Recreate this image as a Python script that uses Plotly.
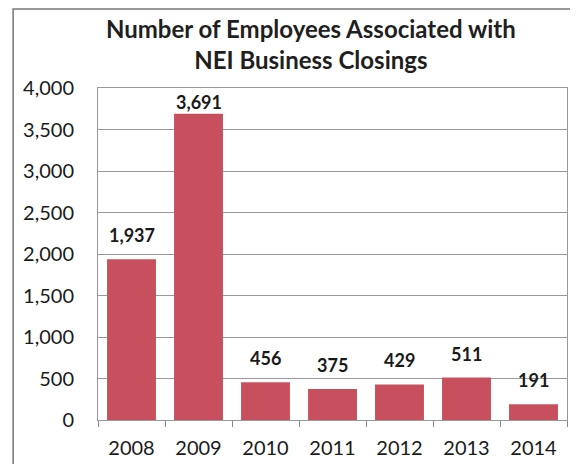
import plotly.graph_objects as go

years = ["2008", "2009", "2010", "2011", "2012", "2013", "2014"]
employees = [1937, 3691, 456, 375, 429, 511, 191]
y_ticks = [0, 500, 1000, 1500, 2000, 2500, 3000, 3500, 4000]
y_tick_labels = ["0", "500", "1,000", "1,500", "2,000", "2,500", "3,000", "3,500", "4,000"]
y_max = 4000

FONT = "Lato, Open Sans, sans-serif"

fig = go.Figure()
fig.add_trace(go.Bar(
    x=years, y=employees,
    marker=dict(color="#c8505e", line=dict(width=0)),
    width=0.73,
))

for i, v in enumerate(employees):
    if v > 0.88 * y_max:
        # label kept inside the plot area, just under its top edge
        fig.add_annotation(x=i, y=y_max, text=f"<b>{v:,}</b>", showarrow=False,
                           yanchor="top", yshift=-1,
                           font=dict(family=FONT, size=18, color="#1a1a1a"))
    else:
        fig.add_annotation(x=i, y=v, text=f"<b>{v:,}</b>", showarrow=False,
                           yanchor="bottom", yshift=11,
                           font=dict(family=FONT, size=18, color="#1a1a1a"))

fig.update_layout(
    width=578, height=464,
    margin=dict(l=90, r=19, t=80, b=52),
    paper_bgcolor="white", plot_bgcolor="white",
    showlegend=False,
    title=dict(text="<b>Number of Employees Associated with<br>NEI Business Closings</b>",
               x=0.524, xanchor="center", y=0.935, yanchor="top",
               font=dict(family=FONT, size=24, color="#1f1f1f")),
    xaxis=dict(type="category", range=[-0.5, 6.5], showgrid=False,
               ticks="outside", ticklen=6, tickcolor="#888",
               tickson="boundaries", ticklabelstandoff=10,
               showline=True, linecolor="#999", mirror=True,
               tickfont=dict(family=FONT, size=20, color="#1a1a1a")),
    yaxis=dict(range=[0, y_max], tickvals=y_ticks, ticktext=y_tick_labels,
               showgrid=True, gridcolor="#999", gridwidth=1,
               showline=True, linecolor="#999", mirror=True,
               zeroline=False, ticks="", ticklabelstandoff=19,
               tickfont=dict(family=FONT, size=20, color="#1a1a1a")),
    shapes=[dict(type="rect", xref="paper", yref="paper",
                 x0=-0.181, x1=1.05, y0=-0.2, y1=1.238,
                 line=dict(color="#777", width=1.5))],
)

fig.write_html("out.html")
